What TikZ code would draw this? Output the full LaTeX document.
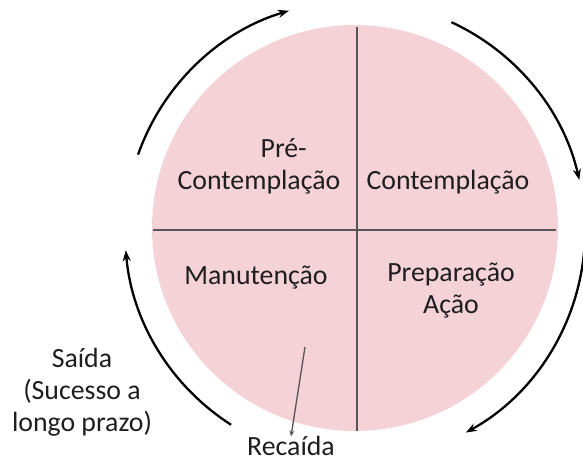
\documentclass[tikz,border=0pt]{standalone}
\usepackage{fontspec}
\setmainfont{Carlito}
\usetikzlibrary{arrows.meta}
\definecolor{pinkfill}{HTML}{F4D2D8}
\definecolor{divline}{HTML}{555555}
\definecolor{txt}{HTML}{1E1E1E}
\tikzset{
  lblfont/.style={font=\fontsize{27.8}{32}\selectfont, text=txt, inner sep=0pt},
  lbl/.style={lblfont, align=center},
  cyc/.style={line width=2.3pt, -{Stealth[length=11pt,width=8pt]}},
  div/.style={line width=2pt, draw=divline},
}
\begin{document}
\begin{tikzpicture}[x=1pt,y=-1pt]
\useasboundingbox (0,0) rectangle (583,463);
\coordinate (c) at (355,228);
\coordinate (ac) at (355,231);
\fill[pinkfill] (c) circle[radius=203pt];
\draw[div] (357,27) -- (357,431);
\draw[div] (153,230) -- (556,230);
% cycle arrows
\draw[cyc] (ac) ++(-160.6:230) arc[start angle=-160.6, end angle=-106.7, radius=230];
\draw[cyc] (ac) ++(-65.2:230) arc[start angle=-65.2, end angle=-12.8, radius=230];
\draw[cyc] (ac) ++(4:230) arc[start angle=4, end angle=61.2, radius=230];
\draw[cyc] (ac) ++(122.6:230) arc[start angle=122.6, end angle=175.2, radius=230];
% labels
\node[lbl, align=left] (pre) at (259,166) {\hspace*{83pt}Pré-\\Contemplação};
\node[lbl] (cont) at (448,182) {Contemplação};
\node[lbl] (man) at (256,278) {Manutenção};
\node[lbl] (prep) at (451,291) {Preparação\\Ação};
\node[lbl] (said) at (82,392) {Saída\\(Sucesso a\\longo prazo)};
\node[lblfont, anchor=base] (rec) at (291,455) {Recaída};
\coordinate (rs) at (305,347);
\draw[line width=1.3pt, draw=divline, -{Stealth[length=6pt,width=5pt]}] (rs) -- ([yshift=-1pt]rec.north);
\end{tikzpicture}
\end{document}
